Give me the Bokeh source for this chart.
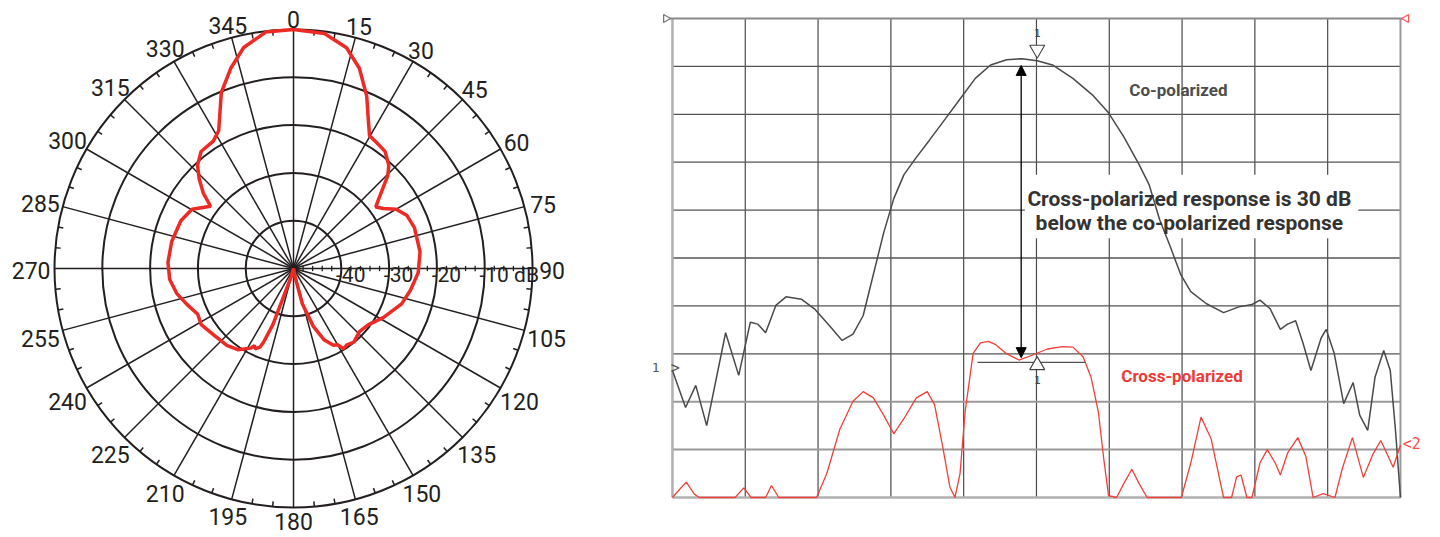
import math
from bokeh.plotting import figure
from bokeh.layouts import row
from bokeh.models import Arrow, NormalHead
from bokeh.core.properties import value
from bokeh.embed import file_html
from bokeh.resources import INLINE

FONT = "Roboto"

# ---------------- left: polar antenna pattern ----------------
pattern_angle = [0, 7.5, 13.5, 18.2, 23.0, 25.6, 29.8, 33.0, 38.0, 42.7, 45.4, 48.0, 51.5, 53.2,
                 56.3, 60.0, 65.0, 71.3, 82.5, 91.9, 100.4, 108.1, 118.7, 126.8, 133.8, 140.6,
                 145.4, 148.0, 150.0, 152.5, 156.7, 161.1, 166.0, 170.0, 180.0,
                 196.0, 199.6, 200.2, 202.1, 203.1, 205.5, 207.0, 208.2, 214.4, 220.9, 230.1,
                 238.7, 244.5, 251.7, 258.0, 264.9, 272.8, 282.5, 293.0, 300.3, 306.9, 309.9,
                 313.5, 317.1, 321.7, 327.8, 331.5, 337.7, 342.6, 347.3, 353.3, 360.0]
pattern_db = [0.0, -0.4, -2.5, -5.9, -10.8, -14.0, -18.0, -18.4, -18.9, -20.6, -22.3, -24.8, -27.5, -28.5,
              -27.4, -25.2, -23.8, -23.3, -23.3, -23.9, -25.1, -26.2, -28.6, -30.4, -30.9, -30.1,
              -30.5, -30.2, -31.6, -31.9, -33.7, -37.2, -42.4, -48.4, -50.0,
              -48.3, -42.9, -37.5, -33.4, -32.1, -31.4, -31.9, -31.1, -29.4, -28.7, -28.3,
              -27.4, -27.8, -26.4, -25.0, -24.0, -23.7, -23.9, -24.4, -25.4, -28.3, -25.4,
              -22.8, -20.5, -18.8, -18.5, -17.2, -10.2, -6.1, -2.6, -0.2, 0.0]
ring_db = [-40, -30, -20, -10, 0]
ring_labels = ["-40", "-30", "-20", "-10 dB"]
angle_labels = list(range(0, 360, 15))
FLOOR_DB = -50

def pol(r, a):
    t = math.radians(a)
    return r * math.sin(t), r * math.cos(t)

p1 = figure(width=628, height=537, x_range=(-61.30, 70.08), y_range=(-56.28, 56.07),
            output_backend="svg", toolbar_location=None, min_border=0)
p1.axis.visible = False
p1.grid.visible = False
p1.outline_line_color = None
p1.background_fill_color = "white"
p1.border_fill_color = "white"

R = 0 - FLOOR_DB
ink = "#231f20"
radii = [d - FLOOR_DB for d in ring_db]
p1.circle(x=[0] * len(radii), y=[0] * len(radii), radius=radii, fill_color=None,
          line_color=ink, line_width=2)
sx, sy = zip(*[pol(R, a) for a in angle_labels])
p1.segment(x0=[0] * len(sx), y0=[0] * len(sx), x1=list(sx), y1=list(sy), line_color=ink, line_width=1.5)
tick_a = [a for a in range(0, 360, 5) if a % 15]
t0 = [pol(R, a) for a in tick_a]
t1 = [pol(R - 1.1, a) for a in tick_a]
p1.segment(x0=[t[0] for t in t0], y0=[t[1] for t in t0], x1=[t[0] for t in t1], y1=[t[1] for t in t1],
           line_color=ink, line_width=1.5)
rt = [r for r in range(2, 50, 2) if r % 10]
p1.segment(x0=rt, y0=[-0.55] * len(rt), x1=rt, y1=[0.55] * len(rt), line_color=ink, line_width=1.3)

px, py = [], []
for a, d in zip(pattern_angle, pattern_db):
    x, y = pol(d - FLOOR_DB, a)
    px.append(x)
    py.append(y)
p1.line(px, py, line_color="#ee2a24", line_width=3.5)

lx, ly, lt = [], [], []
for a in angle_labels:
    s = str(a)
    r = 52.5 + 0.8 * len(s) * abs(math.sin(math.radians(a)))
    x, y = pol(r, a)
    lx.append(x)
    ly.append(y - 0.5)
    lt.append(s)
p1.text(x=lx, y=ly, text=lt, text_font=value(FONT), text_font_size="23px", text_color=ink,
        text_align="center", text_baseline="middle")
p1.text(x=[d - FLOOR_DB - 1.1 for d in ring_db[:4]], y=[-1.3] * 4, text=ring_labels,
        text_font=value(FONT), text_font_size="21px", text_color=ink,
        text_align="left", text_baseline="middle")

# ---------------- right: co / cross polarised sweep ----------------
co_x = [0.00, 0.18, 0.32, 0.47, 0.73, 0.91, 1.07, 1.17, 1.28, 1.42, 1.56, 1.77, 1.95, 2.16, 2.33, 2.48,
        2.62, 2.76, 2.90, 3.04, 3.18, 3.35, 3.53, 3.74, 3.95, 4.16, 4.37, 4.59, 4.80, 5.01, 5.22, 5.50,
        5.78, 5.99, 6.20, 6.41, 6.55, 6.69, 6.84, 6.98, 7.12, 7.33, 7.57, 7.78, 7.96, 8.07, 8.21, 8.35,
        8.45, 8.56, 8.66, 8.77, 8.91, 8.98, 9.09, 9.22, 9.35, 9.44, 9.55, 9.65, 9.77, 9.86, 9.93, 10.0]
co_y = [2.65, 1.88, 2.34, 1.50, 3.44, 2.55, 3.66, 3.62, 3.44, 4.01, 4.19, 4.14, 3.94, 3.58, 3.28, 3.41,
        3.80, 4.66, 5.52, 6.24, 6.74, 7.10, 7.46, 7.89, 8.32, 8.75, 9.03, 9.14, 9.16, 9.12, 9.03, 8.75,
        8.39, 8.03, 7.53, 6.95, 6.52, 5.81, 5.23, 4.66, 4.30, 4.05, 3.86, 3.98, 4.03, 4.12, 3.94, 3.51,
        3.62, 3.69, 3.23, 2.65, 3.33, 3.51, 3.01, 1.96, 2.40, 1.72, 1.40, 2.51, 3.07, 2.65, 1.43, 0.0]
cross_x = [0.00, 0.08, 0.19, 0.30, 0.37, 0.86, 0.98, 1.08, 1.28, 1.36, 1.46, 1.98, 2.12, 2.30, 2.48,
           2.62, 2.76, 2.90, 3.04, 3.18, 3.35, 3.50, 3.60, 3.71, 3.81, 3.88, 3.95, 4.02, 4.13, 4.23,
           4.34, 4.44, 4.58, 4.76, 4.94, 5.15, 5.36, 5.50, 5.64, 5.75, 5.85, 5.92, 5.99, 6.10, 6.20,
           6.31, 6.41, 6.52, 6.99, 7.12, 7.26, 7.40, 7.50, 7.57, 7.68, 7.75, 7.81, 7.89, 7.96, 8.07,
           8.17, 8.28, 8.35, 8.45, 8.59, 8.70, 8.80, 8.94, 9.10, 9.20, 9.34, 9.49, 9.62, 9.73, 9.90, 10.0]
cross_y = [0.00, 0.14, 0.32, 0.07, 0.00, 0.00, 0.20, 0.00, 0.00, 0.25, 0.00, 0.00, 0.50, 1.43, 2.01,
           2.21, 2.08, 1.72, 1.33, 1.65, 2.08, 2.21, 1.94, 1.08, 0.22, 0.00, 0.50, 1.79, 3.01, 3.23,
           3.26, 3.19, 3.01, 2.87, 2.97, 3.10, 3.15, 3.14, 2.94, 2.51, 1.79, 0.86, 0.04, 0.00, 0.29,
           0.59, 0.29, 0.00, 0.00, 0.72, 1.68, 1.22, 0.50, 0.00, 0.00, 0.43, 0.47, 0.00, 0.00, 0.72,
           1.00, 0.72, 0.47, 0.93, 1.25, 0.86, 0.00, 0.08, 0.00, 0.60, 1.25, 0.42, 0.90, 1.19, 0.63, 1.09]
N_DIV = 10
marker_x = 5.01
co_peak = 9.16
cross_mark = 2.92

p2 = figure(width=804, height=537, x_range=(-0.604, 10.44), y_range=(-0.835, 10.376),
            output_backend="svg", toolbar_location=None, min_border=0)
p2.axis.visible = False
p2.grid.visible = False
p2.outline_line_color = None
p2.background_fill_color = "white"
p2.border_fill_color = "white"

divs = list(range(N_DIV + 1))
# graticule
p2.segment(x0=divs[1:-1], y0=[0] * (N_DIV - 1), x1=divs[1:-1], y1=[N_DIV] * (N_DIV - 1),
           line_color="#4a4a4a", line_width=1.2)
h_col = ["#9a9a9a" if d in (1, 2) else "#555555" for d in divs[1:-1]]
h_w = [2.0 if d in (1, 2) else 1.3 for d in divs[1:-1]]
p2.segment(x0=[0] * (N_DIV - 1), y0=divs[1:-1], x1=[N_DIV] * (N_DIV - 1), y1=divs[1:-1],
           line_color=h_col, line_width=h_w)
p2.segment(x0=[0, 0], y0=[0, 0], x1=[0, N_DIV], y1=[N_DIV, 0], line_color="#b0b0b0", line_width=2.5)
p2.segment(x0=[N_DIV], y0=[0], x1=[N_DIV], y1=[N_DIV], line_color="#9a9a9a", line_width=2)
p2.segment(x0=[-0.08], y0=[N_DIV], x1=[N_DIV + 0.07], y1=[N_DIV], line_color="#8a8a8a", line_width=2)
p2.scatter(x=[-0.09], y=[N_DIV], marker="triangle", angle=-math.pi / 2, size=8,
           fill_color="white", line_color="#777777", line_width=1.3)
p2.scatter(x=[N_DIV + 0.08], y=[N_DIV], marker="triangle", angle=math.pi / 2, size=8,
           fill_color="white", line_color="#ff5a5a", line_width=1.3)

p2.quad(left=[4.84], right=[9.42], bottom=[5.41], top=[6.74], fill_color="white", line_color=None)

p2.line(co_x, co_y, line_color="#4a4a4a", line_width=1.5)
p2.line(cross_x, cross_y, line_color="#f0403a", line_width=1.3)

p2.segment(x0=[4.19], y0=[2.82], x1=[5.67], y1=[2.82], line_color="#505050", line_width=1.2)
p2.scatter(x=[marker_x], y=[co_peak + 0.19], marker="inverted_triangle", size=15,
           fill_color="white", line_color="#444444", line_width=1.1)
p2.scatter(x=[marker_x], y=[cross_mark - 0.16], marker="triangle", size=15,
           fill_color="white", line_color="#444444", line_width=1.1)
p2.text(x=[marker_x, marker_x], y=[9.69, 2.45], text=["1", "1"], text_font=value("DejaVu Sans Mono"),
        text_font_size="11px", text_color="#444444", text_align="center", text_baseline="middle")

arrow_x = 4.79
p2.add_layout(Arrow(start=NormalHead(size=10, fill_color="black", line_color="black"),
                    end=NormalHead(size=10, fill_color="black", line_color="black"),
                    x_start=arrow_x, y_start=cross_mark, x_end=arrow_x, y_end=9.02,
                    line_color="black", line_width=1.3))

p2.text(x=[6.95], y=[8.50], text=["Co-polarized"], text_font=value(FONT), text_font_style="bold",
        text_font_size="17px", text_color="#4d4d4d", text_align="center", text_baseline="middle")
p2.text(x=[7.0], y=[2.53], text=["Cross-polarized"], text_font=value(FONT), text_font_style="bold",
        text_font_size="17px", text_color="#ee3a35", text_align="center", text_baseline="middle")
p2.text(x=[7.10, 7.10], y=[6.24, 5.74],
        text=["Cross-polarized response is 30 dB", "below the co-polarized response"],
        text_font=value(FONT), text_font_style="bold", text_font_size="21px", text_color="#333333",
        text_align="center", text_baseline="middle")
p2.text(x=[-0.23], y=[2.71], text=["1"], text_font=value("DejaVu Sans Mono"), text_font_size="13px",
        text_color="#555555", text_align="center", text_baseline="middle")
p2.text(x=[0.04], y=[2.71], text=[">"], text_font=value("DejaVu Sans Mono"), text_font_size="15px",
        text_color="#555555", text_align="center", text_baseline="middle")
p2.text(x=[10.03], y=[1.12], text=["<2"], text_font=value("DejaVu Sans Mono"), text_font_size="15px",
        text_color="#ff4a4a", text_align="left", text_baseline="middle")

layout = row(p1, p2)
open("out.html", "w").write(file_html(layout, INLINE))
